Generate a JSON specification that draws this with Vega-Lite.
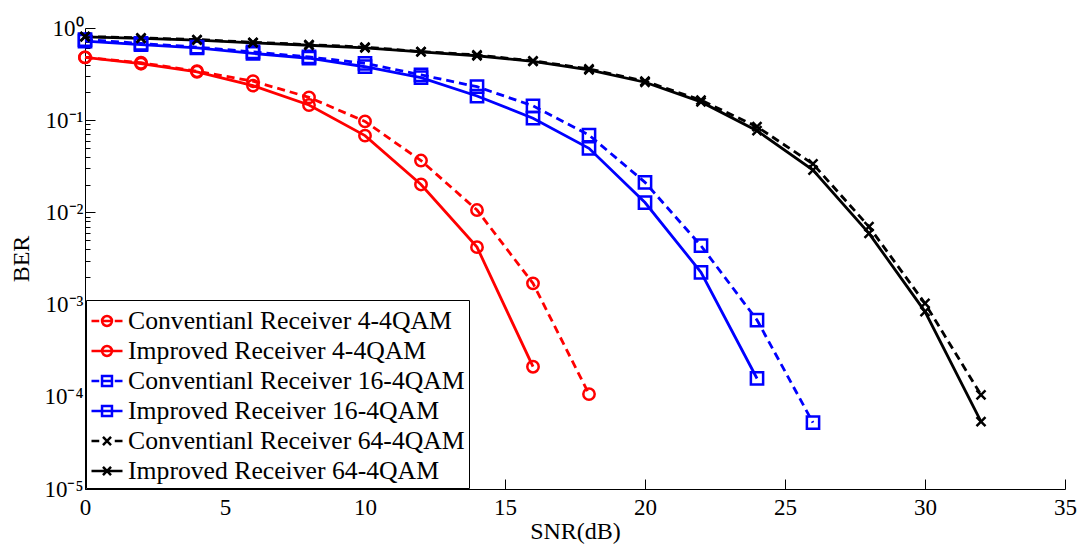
{
  "$schema": "https://vega.github.io/schema/vega-lite/v6.json",
  "width": 980,
  "height": 461,
  "autosize": "none",
  "padding": {"left": 85, "top": 28, "right": 22, "bottom": 57},
  "background": "white",
  "config": {
    "view": {"stroke": null},
    "axis": {
      "grid": false,
      "domainColor": "black",
      "tickColor": "black",
      "labelColor": "black",
      "titleColor": "black",
      "labelFont": "Liberation Serif",
      "titleFont": "Liberation Serif",
      "labelFontSize": 24,
      "titleFontSize": 24,
      "titleFontWeight": "normal"
    },
    "legend": {
      "labelFont": "Liberation Serif",
      "labelFontSize": 25.7,
      "labelColor": "black"
    }
  },
  "data": {
    "values": [
      {"series": "Conventianl Receiver 4-4QAM", "snr": 0, "ber": 0.48},
      {"series": "Conventianl Receiver 4-4QAM", "snr": 2, "ber": 0.42},
      {"series": "Conventianl Receiver 4-4QAM", "snr": 4, "ber": 0.34},
      {"series": "Conventianl Receiver 4-4QAM", "snr": 6, "ber": 0.265},
      {"series": "Conventianl Receiver 4-4QAM", "snr": 8, "ber": 0.177},
      {"series": "Conventianl Receiver 4-4QAM", "snr": 10, "ber": 0.097},
      {"series": "Conventianl Receiver 4-4QAM", "snr": 12, "ber": 0.0365},
      {"series": "Conventianl Receiver 4-4QAM", "snr": 14, "ber": 0.0106},
      {"series": "Conventianl Receiver 4-4QAM", "snr": 16, "ber": 0.0017},
      {"series": "Conventianl Receiver 4-4QAM", "snr": 18, "ber": 0.000107},
      {"series": "Improved Receiver 4-4QAM", "snr": 0, "ber": 0.48},
      {"series": "Improved Receiver 4-4QAM", "snr": 2, "ber": 0.41},
      {"series": "Improved Receiver 4-4QAM", "snr": 4, "ber": 0.335},
      {"series": "Improved Receiver 4-4QAM", "snr": 6, "ber": 0.237},
      {"series": "Improved Receiver 4-4QAM", "snr": 8, "ber": 0.146},
      {"series": "Improved Receiver 4-4QAM", "snr": 10, "ber": 0.068},
      {"series": "Improved Receiver 4-4QAM", "snr": 12, "ber": 0.0201},
      {"series": "Improved Receiver 4-4QAM", "snr": 14, "ber": 0.0042},
      {"series": "Improved Receiver 4-4QAM", "snr": 16, "ber": 0.000212},
      {"series": "Conventianl Receiver 16-4QAM", "snr": 0, "ber": 0.75},
      {"series": "Conventianl Receiver 16-4QAM", "snr": 2, "ber": 0.68},
      {"series": "Conventianl Receiver 16-4QAM", "snr": 4, "ber": 0.62},
      {"series": "Conventianl Receiver 16-4QAM", "snr": 6, "ber": 0.55},
      {"series": "Conventianl Receiver 16-4QAM", "snr": 8, "ber": 0.485},
      {"series": "Conventianl Receiver 16-4QAM", "snr": 10, "ber": 0.414},
      {"series": "Conventianl Receiver 16-4QAM", "snr": 12, "ber": 0.31},
      {"series": "Conventianl Receiver 16-4QAM", "snr": 14, "ber": 0.231},
      {"series": "Conventianl Receiver 16-4QAM", "snr": 16, "ber": 0.143},
      {"series": "Conventianl Receiver 16-4QAM", "snr": 18, "ber": 0.069},
      {"series": "Conventianl Receiver 16-4QAM", "snr": 20, "ber": 0.0212},
      {"series": "Conventianl Receiver 16-4QAM", "snr": 22, "ber": 0.00435},
      {"series": "Conventianl Receiver 16-4QAM", "snr": 24, "ber": 0.00068},
      {"series": "Conventianl Receiver 16-4QAM", "snr": 26, "ber": 0.0000524},
      {"series": "Improved Receiver 16-4QAM", "snr": 0, "ber": 0.72},
      {"series": "Improved Receiver 16-4QAM", "snr": 2, "ber": 0.66},
      {"series": "Improved Receiver 16-4QAM", "snr": 4, "ber": 0.61},
      {"series": "Improved Receiver 16-4QAM", "snr": 6, "ber": 0.53},
      {"series": "Improved Receiver 16-4QAM", "snr": 8, "ber": 0.47},
      {"series": "Improved Receiver 16-4QAM", "snr": 10, "ber": 0.38},
      {"series": "Improved Receiver 16-4QAM", "snr": 12, "ber": 0.29},
      {"series": "Improved Receiver 16-4QAM", "snr": 14, "ber": 0.183},
      {"series": "Improved Receiver 16-4QAM", "snr": 16, "ber": 0.105},
      {"series": "Improved Receiver 16-4QAM", "snr": 18, "ber": 0.0496},
      {"series": "Improved Receiver 16-4QAM", "snr": 20, "ber": 0.0128},
      {"series": "Improved Receiver 16-4QAM", "snr": 22, "ber": 0.00224},
      {"series": "Improved Receiver 16-4QAM", "snr": 24, "ber": 0.000158},
      {"series": "Conventianl Receiver 64-4QAM", "snr": 0, "ber": 0.81},
      {"series": "Conventianl Receiver 64-4QAM", "snr": 2, "ber": 0.78},
      {"series": "Conventianl Receiver 64-4QAM", "snr": 4, "ber": 0.75},
      {"series": "Conventianl Receiver 64-4QAM", "snr": 6, "ber": 0.7},
      {"series": "Conventianl Receiver 64-4QAM", "snr": 8, "ber": 0.66},
      {"series": "Conventianl Receiver 64-4QAM", "snr": 10, "ber": 0.62},
      {"series": "Conventianl Receiver 64-4QAM", "snr": 12, "ber": 0.555},
      {"series": "Conventianl Receiver 64-4QAM", "snr": 14, "ber": 0.51},
      {"series": "Conventianl Receiver 64-4QAM", "snr": 16, "ber": 0.44},
      {"series": "Conventianl Receiver 64-4QAM", "snr": 18, "ber": 0.36},
      {"series": "Conventianl Receiver 64-4QAM", "snr": 20, "ber": 0.265},
      {"series": "Conventianl Receiver 64-4QAM", "snr": 22, "ber": 0.165},
      {"series": "Conventianl Receiver 64-4QAM", "snr": 24, "ber": 0.085},
      {"series": "Conventianl Receiver 64-4QAM", "snr": 26, "ber": 0.0335},
      {"series": "Conventianl Receiver 64-4QAM", "snr": 28, "ber": 0.007},
      {"series": "Conventianl Receiver 64-4QAM", "snr": 30, "ber": 0.00103},
      {"series": "Conventianl Receiver 64-4QAM", "snr": 32, "ber": 0.000105},
      {"series": "Improved Receiver 64-4QAM", "snr": 0, "ber": 0.8},
      {"series": "Improved Receiver 64-4QAM", "snr": 2, "ber": 0.77},
      {"series": "Improved Receiver 64-4QAM", "snr": 4, "ber": 0.74},
      {"series": "Improved Receiver 64-4QAM", "snr": 6, "ber": 0.69},
      {"series": "Improved Receiver 64-4QAM", "snr": 8, "ber": 0.65},
      {"series": "Improved Receiver 64-4QAM", "snr": 10, "ber": 0.61},
      {"series": "Improved Receiver 64-4QAM", "snr": 12, "ber": 0.55},
      {"series": "Improved Receiver 64-4QAM", "snr": 14, "ber": 0.5},
      {"series": "Improved Receiver 64-4QAM", "snr": 16, "ber": 0.435},
      {"series": "Improved Receiver 64-4QAM", "snr": 18, "ber": 0.352},
      {"series": "Improved Receiver 64-4QAM", "snr": 20, "ber": 0.258},
      {"series": "Improved Receiver 64-4QAM", "snr": 22, "ber": 0.158},
      {"series": "Improved Receiver 64-4QAM", "snr": 24, "ber": 0.077},
      {"series": "Improved Receiver 64-4QAM", "snr": 26, "ber": 0.0288},
      {"series": "Improved Receiver 64-4QAM", "snr": 28, "ber": 0.00593},
      {"series": "Improved Receiver 64-4QAM", "snr": 30, "ber": 0.00084},
      {"series": "Improved Receiver 64-4QAM", "snr": 32, "ber": 0.0000537}
    ]
  },
  "encoding": {
    "x": {
      "field": "snr",
      "type": "quantitative",
      "scale": {"domain": [0, 35], "nice": false, "zero": false},
      "axis": {
        "title": "SNR(dB)",
        "values": [0, 5, 10, 15, 20, 25, 30, 35],
        "tickSize": -10,
        "labelPadding": 17,
        "titlePadding": 0,
        "labelFontSize": 23,
        "labelFlush": false,
        "labelOverlap": false
      }
    },
    "y": {
      "field": "ber",
      "type": "quantitative",
      "scale": {"type": "log", "domain": [0.00001, 1], "nice": false},
      "axis": {
        "title": "BER",
        "values": [0.00001, 0.00002, 0.00003, 0.00004, 0.00005, 0.00006, 0.00007, 0.00008, 0.00009,
                   0.0001, 0.0002, 0.0003, 0.0004, 0.0005, 0.0006, 0.0007, 0.0008, 0.0009,
                   0.001, 0.002, 0.003, 0.004, 0.005, 0.006, 0.007, 0.008, 0.009,
                   0.01, 0.02, 0.03, 0.04, 0.05, 0.06, 0.07, 0.08, 0.09,
                   0.1, 0.2, 0.3, 0.4, 0.5, 0.6, 0.7, 0.8, 0.9, 1],
        "labelExpr": "abs(log(datum.value)/LN10 - round(log(datum.value)/LN10)) < 0.001 ? ['10⁰','10⁻¹','10⁻²','10⁻³','10⁻⁴','10⁻⁵'][round(-log(datum.value)/LN10)] : ''",
        "tickSize": -10,
        "tickDash": {
          "condition": {"test": "abs(log(datum.value)/LN10 - round(log(datum.value)/LN10)) < 0.001", "value": [12, 0]},
          "value": [5, 30]
        },
        "labelPadding": 12,
        "labelFontSize": 23,
        "titlePadding": 10,
        "labelFlush": false,
        "labelOverlap": false
      }
    }
  },
  "layer": [
    {
      "transform": [{"filter": "datum.series === 'Conventianl Receiver 4-4QAM'"}],
      "mark": {"type": "line", "strokeWidth": 2.8, "color": "#ff0000", "strokeDash": [8, 5]}
    },
    {
      "transform": [{"filter": "datum.series === 'Improved Receiver 4-4QAM'"}],
      "mark": {"type": "line", "strokeWidth": 2.8, "color": "#ff0000"}
    },
    {
      "transform": [{"filter": "datum.series === 'Conventianl Receiver 16-4QAM'"}],
      "mark": {"type": "line", "strokeWidth": 2.8, "color": "#0000ff", "strokeDash": [8, 5]}
    },
    {
      "transform": [{"filter": "datum.series === 'Improved Receiver 16-4QAM'"}],
      "mark": {"type": "line", "strokeWidth": 2.8, "color": "#0000ff"}
    },
    {
      "transform": [{"filter": "datum.series === 'Conventianl Receiver 64-4QAM'"}],
      "mark": {"type": "line", "strokeWidth": 2.8, "color": "#000000", "strokeDash": [8, 5]}
    },
    {
      "transform": [{"filter": "datum.series === 'Improved Receiver 64-4QAM'"}],
      "mark": {"type": "line", "strokeWidth": 2.8, "color": "#000000"}
    },
    {
      "transform": [{"filter": "indexof(datum.series, ' 4-4QAM') >= 0"}],
      "mark": {"type": "point", "shape": "circle", "size": 130, "strokeWidth": 2.5, "opacity": 1, "color": "#ff0000"}
    },
    {
      "transform": [{"filter": "indexof(datum.series, '16-4QAM') >= 0"}],
      "mark": {"type": "point", "shape": "square", "size": 150, "strokeWidth": 2.5, "opacity": 1, "color": "#0000ff"}
    },
    {
      "transform": [{"filter": "indexof(datum.series, '64-4QAM') >= 0"}],
      "mark": {"type": "point", "shape": "M-1,-1L1,1M-1,1L1,-1", "size": 81, "strokeWidth": 2.5, "opacity": 1, "color": "#000000"}
    },
    {
      "mark": {"type": "point", "opacity": 0, "strokeWidth": 2.5},
      "encoding": {
        "color": {
          "field": "series",
          "type": "nominal",
          "scale": {
            "domain": ["Conventianl Receiver 4-4QAM", "Improved Receiver 4-4QAM", "Conventianl Receiver 16-4QAM", "Improved Receiver 16-4QAM", "Conventianl Receiver 64-4QAM", "Improved Receiver 64-4QAM"],
            "range": ["#ff0000", "#ff0000", "#0000ff", "#0000ff", "#000000", "#000000"]
          },
          "legend": {
            "title": null,
            "orient": "bottom-left",
            "offset": 1,
            "padding": 4,
            "strokeColor": "black",
            "fillColor": "white",
            "symbolSize": 961,
            "symbolStrokeWidth": 2.5,
            "symbolOpacity": 1,
            "labelOffset": 4,
            "rowPadding": 0,
            "labelLimit": 600,
            "labelExpr": "datum.label + '\u2002'",
            "encode": {"legend": {"update": {"strokeWidth": {"value": 1.5}}}}
          }
        },
        "shape": {
          "field": "series",
          "type": "nominal",
          "scale": {
            "domain": ["Conventianl Receiver 4-4QAM", "Improved Receiver 4-4QAM", "Conventianl Receiver 16-4QAM", "Improved Receiver 16-4QAM", "Conventianl Receiver 64-4QAM", "Improved Receiver 64-4QAM"],
            "range": [
              "M-1,0H-0.5M-0.32,0H0.32M0.5,0H1M-0.32,0A0.32,0.32,0,1,1,0.32,0A0.32,0.32,0,1,1,-0.32,0",
              "M-1,0H1M-0.32,0A0.32,0.32,0,1,1,0.32,0A0.32,0.32,0,1,1,-0.32,0",
              "M-1,0H-0.5M-0.32,0H0.32M0.5,0H1M-0.32,-0.32H0.32V0.32H-0.32Z",
              "M-1,0H1M-0.32,-0.32H0.32V0.32H-0.32Z",
              "M-1,0H-0.5M0.5,0H1M-0.26,-0.26L0.26,0.26M-0.26,0.26L0.26,-0.26",
              "M-1,0H1M-0.26,-0.26L0.26,0.26M-0.26,0.26L0.26,-0.26"
            ]
          },
          "legend": {
            "title": null,
            "orient": "bottom-left",
            "offset": 1,
            "padding": 4,
            "strokeColor": "black",
            "fillColor": "white",
            "symbolSize": 961,
            "symbolStrokeWidth": 2.5,
            "symbolOpacity": 1,
            "labelOffset": 4,
            "rowPadding": 0,
            "labelLimit": 600,
            "labelExpr": "datum.label + '\u2002'",
            "encode": {"legend": {"update": {"strokeWidth": {"value": 1.5}}}}
          }
        }
      }
    }
  ]
}
